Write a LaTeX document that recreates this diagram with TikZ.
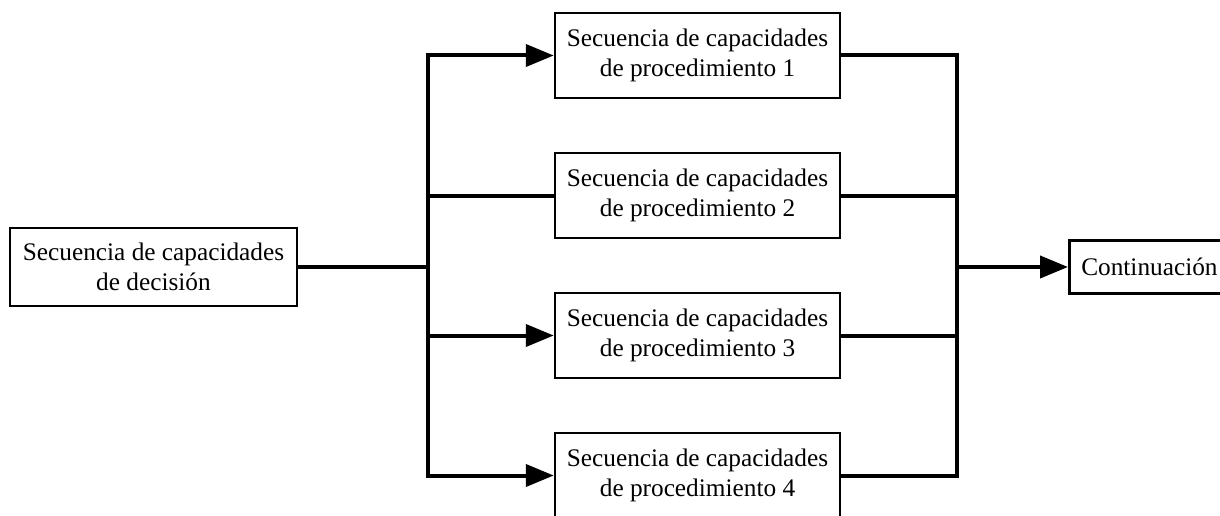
\documentclass[tikz,border=0pt]{standalone}
\usepackage{fontspec}
\setmainfont{Liberation Serif}
\usetikzlibrary{arrows.meta}

\begin{document}
\begin{tikzpicture}[x=1pt, y=-1pt,
        box/.style={rectangle, draw, line width=2.5pt, align=center, inner sep=0pt,
            font=\fontsize{25.3}{29.5}\selectfont},
        link/.style={line width=4pt},
        arrowlink/.style={line width=4pt, -{Triangle[length=28pt, width=22pt]}}]
        \useasboundingbox (0,0) rectangle (1220,516);
        \node[box, minimum width=287, minimum height=78] (dec) at (153.5,267) {Secuencia de capacidades\\de decisión};
        \node[box, minimum width=285, minimum height=85] (p1) at (697.5,55.5) {Secuencia de capacidades\\de procedimiento 1};
        \node[box, minimum width=285, minimum height=85] (p2) at (697.5,195.5) {Secuencia de capacidades\\de procedimiento 2};
        \node[box, minimum width=285, minimum height=85] (p3) at (697.5,335.5) {Secuencia de capacidades\\de procedimiento 3};
        \node[box, minimum width=285, minimum height=85] (p4) at (697.5,475.5) {Secuencia de capacidades\\de procedimiento 4};
        \node[box, minimum height=53, inner xsep=12pt, anchor=west] (cont) at (1068,267) {Continuación};
        \coordinate (split) at (428,267);
        \coordinate (join) at (957,267);
        % Fan out to the four sequences
        \draw[link] (dec.east) -- (split);
        \draw[arrowlink] (split) |- (p1.west);
        \draw[link] (split) |- (p2.west);
        \draw[arrowlink] (split) |- (p3.west);
        \draw[arrowlink] (split) |- (p4.west);
        % Gather them again
        \draw[link] (p1.east) -| (join);
        \draw[link] (p2.east) -| (join);
        \draw[link] (p3.east) -| (join);
        \draw[link] (p4.east) -| (join);
        \draw[arrowlink] (join) -- (cont.west);
    \end{tikzpicture}
\end{document}
